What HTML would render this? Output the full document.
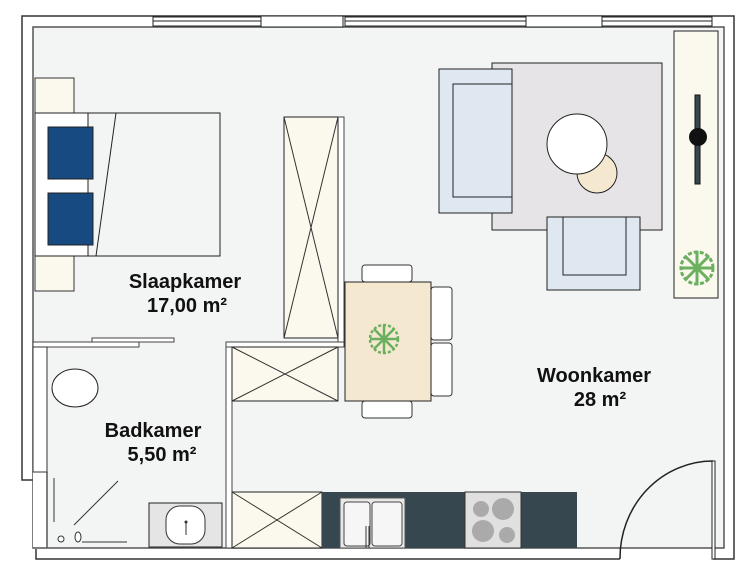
<!DOCTYPE html>
<html><head><meta charset="utf-8"><style>body{margin:0;background:#fff}svg{display:block}text{font-family:"Liberation Sans",sans-serif;font-weight:bold;font-size:20px;fill:#111}</style></head><body>
<svg width="754" height="579" viewBox="0 0 754 579" xmlns="http://www.w3.org/2000/svg">
<rect width="754" height="579" fill="#fff"/>
<!-- walls outer -->
<polyline points="620,559 36,559 36,480 22,480 22,16 734,16 734,559 713,559" fill="none" stroke="#333" stroke-width="1.5"/>
<rect x="33" y="27" width="691" height="521" fill="#f3f5f4" stroke="#555" stroke-width="1.5"/>
<rect x="33" y="472" width="14" height="77" fill="#fff"/>
<line x1="47" y1="472" x2="47" y2="548" stroke="#555" stroke-width="1.5"/>
<line x1="33" y1="548" x2="47" y2="548" stroke="#555" stroke-width="1.5"/>
<!-- windows -->
<g stroke="#222" fill="#fff">
<rect x="153" y="17" width="108" height="9"/><line x1="153" y1="21" x2="261" y2="21"/>
<rect x="261" y="16" width="82" height="11" stroke-width="1"/>
<rect x="345" y="17" width="181" height="9"/><line x1="345" y1="21" x2="526" y2="21"/>
<rect x="526" y="16" width="76" height="11" stroke-width="1"/>
<rect x="602" y="17" width="110" height="9"/><line x1="602" y1="21" x2="712" y2="21"/>
</g>
<!-- interior walls -->
<rect x="33" y="342" width="106" height="5" fill="#fff" stroke="#444"/>
<rect x="92" y="338" width="82" height="4" fill="#fff" stroke="#444"/>
<rect x="33" y="347" width="14" height="125" fill="#fff" stroke="#333"/>
<rect x="226" y="342" width="6" height="206" fill="#fff" stroke="#444"/>
<rect x="226" y="342" width="118" height="5" fill="#fff" stroke="#444"/>
<rect x="338" y="117" width="6" height="225" fill="#fff" stroke="#444"/>
<!-- nightstands -->
<rect x="35" y="78" width="39" height="35" fill="#fbf8ee" stroke="#333"/>
<rect x="35" y="256" width="39" height="35" fill="#fbf8ee" stroke="#333"/>
<!-- bed -->
<rect x="35" y="113" width="185" height="143" fill="#f3f5f4" stroke="#222"/>
<rect x="35" y="113" width="53" height="143" fill="#fff" stroke="#222"/>
<rect x="48" y="127" width="45" height="52" fill="#164a80" stroke="#222"/>
<rect x="48" y="193" width="45" height="52" fill="#164a80" stroke="#222"/>
<line x1="116" y1="113" x2="96" y2="256" stroke="#222"/>
<!-- wardrobe -->
<rect x="284" y="117" width="54" height="221" fill="#fbf8ee" stroke="#222"/>
<path d="M284,117 L338,338 M338,117 L284,338" stroke="#333" fill="none"/>
<!-- cabinets -->
<rect x="232" y="347" width="106" height="54" fill="#fbf8ee" stroke="#222"/>
<path d="M232,347 L338,401 M338,347 L232,401" stroke="#333"/>
<rect x="232" y="492" width="90" height="56" fill="#fbf8ee" stroke="#222"/>
<path d="M232,492 L322,548 M322,492 L232,548" stroke="#333"/>
<rect x="322" y="492" width="255" height="56" fill="#37474f"/>
<rect x="340" y="498" width="65" height="50" fill="#e8e8e8" stroke="#555"/>
<rect x="344" y="502" width="26" height="44" rx="3" fill="#f6f6f6" stroke="#444"/>
<rect x="372" y="502" width="30" height="44" rx="3" fill="#f6f6f6" stroke="#444"/>
<line x1="366" y1="526" x2="366" y2="548" stroke="#333"/><line x1="369" y1="526" x2="369" y2="548" stroke="#333"/>
<rect x="465" y="492" width="56" height="56" fill="#e0e0e0" stroke="#333"/>
<circle cx="481" cy="509" r="8" fill="#aaa"/><circle cx="503" cy="509" r="11" fill="#aaa"/>
<circle cx="483" cy="531" r="11" fill="#aaa"/><circle cx="507" cy="535" r="8" fill="#aaa"/>
<!-- bathroom -->
<ellipse cx="75" cy="388" rx="23" ry="19" fill="#fff" stroke="#222"/>
<line x1="54" y1="478" x2="54" y2="522" stroke="#333"/>
<line x1="118" y1="481" x2="74" y2="525" stroke="#333"/>
<line x1="82" y1="542" x2="127" y2="542" stroke="#333"/>
<circle cx="61" cy="539" r="3" fill="#fff" stroke="#333"/>
<ellipse cx="78" cy="537" rx="3" ry="5" fill="#fff" stroke="#333"/>
<rect x="149" y="503" width="73" height="44" fill="#e5e5e5" stroke="#222"/>
<rect x="166" y="506" width="39" height="38" rx="14" fill="#fff" stroke="#333"/>
<circle cx="186" cy="522" r="1.5" fill="#333"/><line x1="186" y1="522" x2="186" y2="535" stroke="#333"/>
<!-- dining -->
<g fill="#fff" stroke="#333">
<rect x="362" y="265" width="50" height="17" rx="3"/>
<rect x="362" y="401" width="50" height="17" rx="3"/>
<rect x="431" y="287" width="21" height="53" rx="3"/>
<rect x="431" y="343" width="21" height="53" rx="3"/>
</g>
<rect x="345" y="282" width="86" height="119" fill="#f4e8d0" stroke="#222"/>
<g stroke="#6ab05e" stroke-width="2.5">
<circle cx="384" cy="339" r="14" fill="none" stroke-dasharray="3 2"/>
<path d="M370,339 H398 M384,325 V353 M374,329 L394,349 M394,329 L374,349"/>
</g>
<!-- living -->
<rect x="492" y="63" width="170" height="167" fill="#e6e4e6" stroke="#222"/>
<rect x="439" y="69" width="73" height="144" fill="#dfe8f0" stroke="#222"/>
<rect x="453" y="84" width="59" height="113" fill="#dfe8f0" stroke="#222"/>
<rect x="547" y="217" width="93" height="73" fill="#dfe8f0" stroke="#222"/>
<rect x="563" y="217" width="63" height="58" fill="#dfe8f0" stroke="#222"/>
<circle cx="597" cy="173" r="20" fill="#f4e8d0" stroke="#222"/>
<circle cx="577" cy="144" r="30" fill="#fff" stroke="#222"/>
<rect x="674" y="31" width="44" height="267" fill="#fbf8ee" stroke="#222"/>
<rect x="695" y="95" width="5" height="89" fill="#37474f" stroke="#111"/>
<circle cx="698" cy="137" r="9" fill="#111"/>
<g stroke="#6ab05e" stroke-width="3">
<circle cx="697" cy="268" r="16" fill="none" stroke-dasharray="4 2"/>
<path d="M680,268 H714 M697,251 V285 M685,256 L709,280 M709,256 L685,280"/>
</g>
<!-- door -->
<rect x="621" y="549" width="91" height="12" fill="#fff"/>
<path d="M620,559 A93,97 0 0 1 713,461" fill="none" stroke="#222" stroke-width="1.5"/>
<rect x="712" y="461" width="3" height="98" fill="#fff" stroke="#222"/>
<!-- labels -->
<text x="185" y="288" text-anchor="middle">Slaapkamer</text>
<text x="187" y="312" text-anchor="middle">17,00 m²</text>
<text x="153" y="437" text-anchor="middle">Badkamer</text>
<text x="162" y="461" text-anchor="middle">5,50 m²</text>
<text x="594" y="382" text-anchor="middle">Woonkamer</text>
<text x="600" y="406" text-anchor="middle">28 m²</text>
</svg>
</body></html>
